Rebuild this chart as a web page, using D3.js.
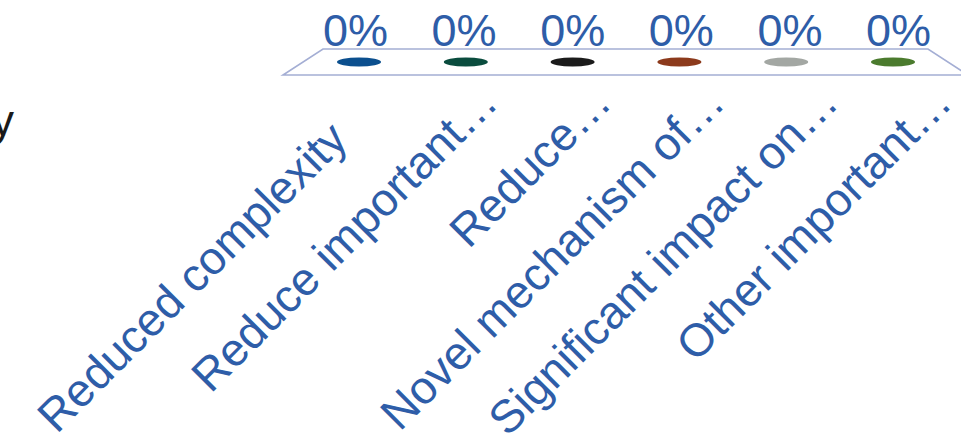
<!DOCTYPE html>
<html lang="en">
<head>
    <meta charset="UTF-8">
    <title>Poll results</title>
    <script src="https://d3js.org/d3.v7.min.js"></script>
    <style>
        body{
            margin: 0;
            background: #ffffff;
        }
        text{
            font-family: "Liberation Sans", Arial, sans-serif;
        }
        .pct{
            font-size: 45px;
            fill: #2e5da8;
            text-anchor: middle;
        }
        .cat{
            font-size: 46px;
            fill: #2e5da8;
            text-anchor: end;
        }
    </style>
</head>
<body>
<svg width="961" height="446"></svg>
<script>
    // categories as they show on the slide (already cut short)
    const categories = [
        "Reduced complexity",
        "Reduce important\u2026",
        "Reduce\u2026",
        "Novel mechanism of\u2026",
        "Significant impact on\u2026",
        "Other important\u2026"
    ]
    const values = [0, 0, 0, 0, 0, 0]
    const colors = ["#0b4f8e", "#0a4c3e", "#1b1b1b", "#8c3a1c", "#a3a7a3", "#4b7b2e"]

    let svg = d3.select("svg")

    // end of the title that falls off the left edge
    svg.append("text")
        .attr("x", 14)
        .attr("y", 136)
        .attr("text-anchor", "end")
        .style("font-size", "45px")
        .style("fill", "#1a1a1a")
        .text("y")

    // three point scales: floor middle, label row above, category anchors below
    let xFloor = d3.scalePoint().domain(categories).range([359, 893])
    let xPct = d3.scalePoint().domain(categories).range([355.5, 898.5])
    let xCat = d3.scalePoint().domain(categories).range([386.5, 954])

    // bar height scale (every value is 0, so only the caps show)
    let y = d3.scaleLinear().domain([0, 1]).range([62, -200])

    // floor of the 3d plot
    let floor = [[323, 49], [928, 49], [968, 75], [283, 75]]
    svg.append("path")
        .attr("d", d3.line()(floor) + "Z")
        .attr("fill", "#ffffff")
        .attr("stroke", "#a4aed4")
        .attr("stroke-width", 1.6)

    // zero-height cylinders
    svg.append("g")
        .selectAll("ellipse")
        .data(values)
        .enter()
        .append("ellipse")
        .attr("cx", function(d, i){ return xFloor(categories[i]) })
        .attr("cy", function(d){ return y(d) })
        .attr("rx", 22)
        .attr("ry", 4.5)
        .attr("fill", function(d, i){ return colors[i] })

    // percent labels
    let fmt = d3.format(".0%")
    svg.append("g")
        .selectAll("text")
        .data(values)
        .enter()
        .append("text")
        .attr("class", "pct")
        .attr("x", function(d, i){ return xPct(categories[i]) })
        .attr("y", 46)
        .text(function(d){ return fmt(d) })

    // rotated category labels, the first one sits further down its own line
    svg.append("g")
        .selectAll("text")
        .data(categories)
        .enter()
        .append("text")
        .attr("class", "cat")
        .attr("transform", function(d, i){
            let back = i == 0 ? 52 : 0
            let x = xCat(d) - back * Math.SQRT1_2
            let yy = 105 + back * Math.SQRT1_2
            return `translate(${x},${yy}) rotate(-45)`
        })
        .text(function(d){ return d })
</script>
</body>
</html>
